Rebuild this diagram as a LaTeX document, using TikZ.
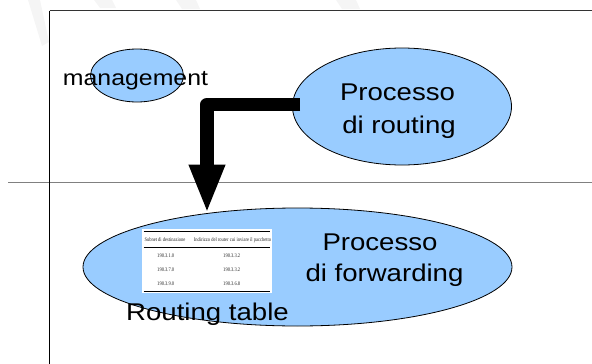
\documentclass[tikz,border=0pt]{standalone}
\usepackage{fontspec}
\setmainfont{Liberation Sans}[FakeStretch=1.14]
\newfontfamily\tabfont{Liberation Serif}[FakeStretch=0.82]
\usetikzlibrary{shapes.geometric,arrows.meta}
\definecolor{ellfill}{HTML}{99CCFF}
\begin{document}
\begin{tikzpicture}[x=1pt,y=-1pt,
  blob/.style={ellipse, draw=black, line width=0.8pt, fill=ellfill, inner sep=0pt},
  lbl/.style={font=\fontsize{24.2}{33}\selectfont, anchor=base, inner sep=0pt},
  tabtxt/.style={font=\tabfont\fontsize{5.5}{6}\selectfont, text=black!85, inner sep=0pt, anchor=center},
  faint/.style={fill=black, opacity=0.04},
  arrowline/.style={line width=13.5pt, line join=round, -{Triangle[length=49pt,width=33pt]}}]
\useasboundingbox (0,0) rectangle (592,364);
\fill[white] (0,0) rectangle (592,364);
% faint background marks
\fill[faint] (28,0) -- (40,0) -- (49,42) -- (42,46) -- cycle;
\fill[faint] (94,0) -- (112,0) -- (116,8) -- (100,8) -- cycle;
\fill[faint] (176,0) -- (196,0) -- (200,9) -- (182,9) -- cycle;
\fill[faint] (336,0) -- (356,0) -- (360,9) -- (342,9) -- cycle;
% frame lines
\draw[line width=1.5pt, black!50] (8,182.7) -- (592,182.7);
\draw[line width=1.3pt, black!80] (49.5,10.7) -- (592,10.7);
\draw[line width=1pt] (49.5,10.7) -- (49.5,364);
% management
\node[blob, minimum width=93pt, minimum height=53pt] (mgmt) at (137,75.5) {};
\node[lbl, font=\fontsize{21.8}{26}\selectfont] (mgmttext) at (135.5,85) {management};
% routing process
\node[blob, minimum width=219pt, minimum height=117pt] (routing) at (402,106.5) {};
\node[lbl] (rt1) at (397.5,100) {Processo};
\node[lbl] (rt2) at (399,133) {di routing};
% forwarding process
\node[blob, minimum width=429pt, minimum height=118pt] (fwd) at (297.5,267) {};
\node[lbl] (fw1) at (380,250) {Processo};
\node[lbl] (fw2) at (384.5,281.7) {di forwarding};
% routing table
\node[fill=white, minimum width=130pt, minimum height=64.5pt, inner sep=0pt] (tab) at (206.7,260.8) {};
\draw[line width=1pt] (143.5,231.7) -- (270,231.7);
\draw[line width=0.5pt] (143.5,247.3) -- (270,247.3);
\draw[line width=1pt] (143.5,291) -- (270,291);
\node[tabtxt] (h1) at (165,240) {Subnet di destinazione};
\node[tabtxt] (h2) at (232.5,240) {Indirizzo del router cui inviare il pacchetto};
\node[tabtxt] (a1) at (165.7,255.5) {190.3.1.0};
\node[tabtxt] (b1) at (231.7,255.5) {190.3.3.2};
\node[tabtxt] (a2) at (165.7,270) {190.3.7.0};
\node[tabtxt] (b2) at (231.7,270) {190.3.3.2};
\node[tabtxt] (a3) at (165.7,284) {190.3.9.0};
\node[tabtxt] (b3) at (231.7,284) {190.3.6.8};
\node[lbl] (rtab) at (207.5,320) {Routing table};
% arrow
\coordinate (tip) at (207,213.5);
\draw[arrowline] ([shift={(8,-2)}]routing.west) -| (tip);
\end{tikzpicture}
\end{document}
